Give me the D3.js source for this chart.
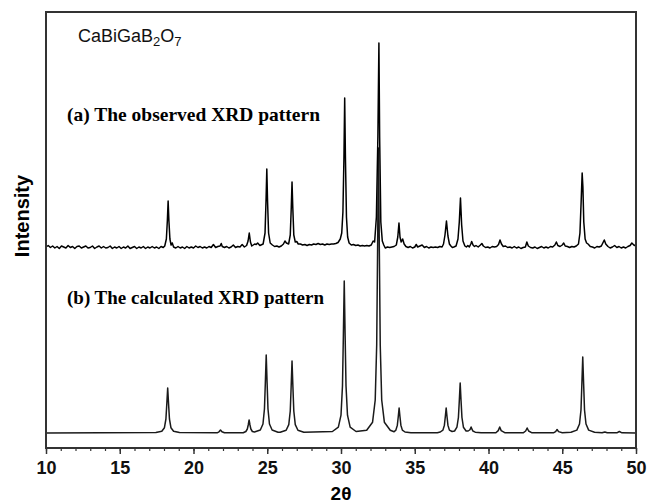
<!doctype html>
<html>
<head>
<meta charset="UTF-8">
<title>CaBiGaB2O7 XRD</title>
<script src="https://d3js.org/d3.v7.min.js"></script>
<style>
  body { margin: 0; background: #fff; }
  .tick text { font-family: "Liberation Sans", Arial, sans-serif; font-weight: bold; font-size: 18px; fill: #111; }
</style>
</head>
<body>
<div id="chart"></div>
<script>
// axis range and tick values
var xRange = [10, 50];
var majorTicks = [10, 15, 20, 25, 30, 35, 40, 45, 50];
var minorTicks = d3.range(10, 51, 1);

// observed pattern, [2theta, counts above its own baseline]
var observed = [
  [10.0,0],[10.15,1.5],[10.3,-0.5],[10.45,1],[10.6,-1],[10.75,0.5],[10.9,-1.5],[11.05,1],[11.2,0],[11.35,-1],
  [11.5,1.5],[11.65,-0.5],[11.8,0.5],[11.95,-1.5],[12.1,0.5],[12.25,1],[12.4,-1],[12.55,0],[12.7,1],[12.85,-1],
  [13.0,-0.5],[13.15,1],[13.3,-1.5],[13.45,0],[13.6,1],[13.75,-1],[13.9,0.5],[14.05,-1],[14.2,-0.5],[14.35,1],
  [14.5,-1.5],[14.65,0],[14.8,-1],[14.95,0.5],[15.1,-1.5],[15.25,0],[15.4,-1],[15.55,1],[15.7,-1.5],[15.85,-0.5],
  [16.0,0.5],[16.15,-1.5],[16.3,0],[16.45,-1],[16.6,0.5],[16.75,-1.5],[16.9,0],[17.05,-1],[17.2,0.5],[17.35,-1],
  [17.5,0],[17.65,-1.5],[17.8,0.5],[17.95,-0.5],
  [18.05,1],[18.16,8],[18.23,27],[18.28,46],[18.33,27],[18.4,8],[18.48,2],[18.56,4],[18.65,0],
  [18.8,-1],[18.95,0.5],[19.1,-1],[19.25,0],[19.4,-1.5],[19.55,0.5],[19.7,-1],[19.85,0],[20.0,-1],[20.15,1],
  [20.3,-0.5],[20.45,0.5],[20.6,-1],[20.75,0],[20.9,-1],[21.05,0.5],[21.2,-0.5],[21.35,2.5],[21.5,-0.5],[21.65,0.5],
  [21.8,1],[21.88,3.5],[21.95,0.5],[22.1,-0.5],[22.25,0.5],[22.4,-1],[22.55,0],[22.7,2],[22.85,-0.5],[23.0,0.5],
  [23.15,0],[23.3,2.5],[23.45,0],[23.6,1.5],[23.7,6],[23.78,14],[23.86,5],[23.95,1],[24.05,2],[24.15,3],
  [24.25,2.5],[24.35,4],[24.5,1.5],
  [24.72,3],[24.85,14],[24.92,48],[24.97,78],[25.02,46],[25.09,14],[25.2,4],[25.35,2],[25.5,0.5],[25.65,1],
  [25.8,0],[25.95,1],[26.1,3],[26.2,6],[26.3,4],[26.45,3],
  [26.56,12],[26.63,40],[26.68,65],[26.73,40],[26.8,12],[26.9,5],[27.0,5.5],[27.1,3],[27.25,3],[27.4,2],
  [27.55,2.5],[27.7,1.5],[27.85,2.5],[28.0,2],[28.15,3],[28.3,2.5],[28.45,3.5],[28.6,2.5],[28.75,3],[28.9,2],
  [29.05,3],[29.2,2.5],[29.35,3],[29.5,3],[29.65,3.5],[29.8,4.5],[29.95,8],
  [30.05,14],[30.13,35],[30.2,90],[30.25,149],[30.3,90],[30.37,30],[30.45,10],[30.55,4],[30.7,2],[30.85,2.5],
  [31.0,1.5],[31.15,2],[31.3,1],[31.45,1.5],[31.6,1],[31.75,1.5],[31.9,1],[32.05,2],[32.18,6],[32.28,5],
  [32.4,30],[32.5,110],[32.57,204],[32.62,110],[32.7,25],[32.8,6],[32.9,2],[33.0,-1],[33.15,0],[33.3,-0.5],
  [33.45,0],[33.6,0.5],[33.75,2],[33.85,10],[33.93,24],[34.0,10],[34.08,5],[34.18,8],[34.28,3],[34.4,0.5],
  [34.55,-0.5],[34.7,0.5],[34.85,-1],[35.0,0],[35.1,2.5],[35.2,0],[35.35,1],[35.5,2],[35.65,-0.5],[35.8,0.5],
  [35.95,-1],[36.1,0],[36.25,-0.5],[36.4,0],[36.55,-0.5],[36.7,0.5],[36.85,0],[36.95,3],
  [37.05,12],[37.15,26],[37.25,11],[37.35,3],[37.45,1],[37.55,-0.5],[37.65,0],[37.8,1],[37.93,8],[38.02,25],
  [38.1,49],[38.18,22],[38.27,6],[38.4,1],[38.5,0],[38.6,1.5],[38.7,0],[38.8,3],[38.86,5.5],[38.95,2],
  [39.05,0.5],[39.15,1.5],[39.3,0],[39.45,2],[39.55,3.5],[39.65,1],[39.8,-0.5],[39.95,0],[40.1,-1],[40.25,0.5],
  [40.4,0],[40.55,0.5],[40.68,2.5],[40.78,7],[40.88,3],[41.0,0.5],[41.15,1],[41.3,-0.5],[41.45,0],[41.6,-1],
  [41.75,0.5],[41.9,-1],[42.05,0],[42.2,-1.5],[42.35,-0.5],[42.5,0],[42.6,5],[42.7,1],[42.85,-0.5],[43.0,-1],
  [43.15,0],[43.3,-1.5],[43.45,-0.5],[43.6,0.5],[43.75,-1],[43.9,0],[44.05,-1],[44.2,0.5],[44.35,0],[44.5,2],
  [44.6,5],[44.7,1.5],[44.85,0.5],[45.0,2],[45.1,4],[45.2,1],[45.35,0.5],[45.5,-0.5],[45.65,0.5],[45.8,0],
  [45.95,1],[46.1,3],
  [46.2,14],[46.28,45],[46.35,74],[46.4,60],[46.46,25],[46.55,8],[46.65,4],[46.75,3],[46.9,0.5],[47.05,0],
  [47.2,-1],[47.35,0.5],[47.5,0],[47.65,1],[47.75,4],[47.85,7],[47.95,3],[48.1,0.5],[48.25,-1],[48.4,0],
  [48.55,1.5],[48.7,-0.5],[48.85,0.5],[49.0,-1],[49.15,0],[49.3,-1],[49.45,0.5],[49.6,1.5],[49.72,4],[49.85,2],
  [50.0,1]
];

// calculated pattern, [2theta, counts above its own baseline]
var calculated = [
  [10,0],
  [17.45,0.5],[17.85,1.7],[18.03,5.3],[18.13,14],[18.19,29],[18.25,45],[18.31,29],[18.37,14],[18.47,5.3],[18.65,1.7],[19.05,0.5],
  [21.6,0.2],[21.73,1.2],[21.83,3],[21.93,1.2],[22.1,0.2],
  [23.37,0.3],[23.55,1.5],[23.65,4],[23.71,8],[23.77,13],[23.83,8],[23.89,4],[23.99,1.5],
  [24.13,1],[24.53,3],[24.71,9],[24.81,24],[24.87,50],[24.93,78],[24.99,50],[25.05,24],[25.15,9],[25.33,3],[25.73,0.8],
  [25.88,0.7],[26.28,2.7],[26.46,8.4],[26.56,22],[26.62,46],[26.68,72],[26.74,46],[26.8,22],[26.9,8.4],[27.08,2.7],[27.48,0.7],
  [29.42,1.5],[29.82,5.8],[30.0,17.8],[30.1,47],[30.16,97],[30.22,152],[30.28,97],[30.34,47],[30.44,17.8],[30.62,5.8],[31.02,1.5],
  [31.74,2.8],[32.14,10.8],[32.32,33],[32.42,88],[32.48,182],[32.54,285],[32.6,182],[32.66,88],[32.76,33],[32.94,10.8],[33.34,2.8],
  [33.6,1.2],[33.72,2.9],[33.82,7.8],[33.88,16],[33.94,25],[34.0,16],[34.06,7.8],[34.16,2.9],[34.34,1],[34.74,0.3],
  [36.53,0.3],[36.73,1],[36.91,2.9],[37.01,7.8],[37.07,16],[37.13,25],[37.19,16],[37.25,7.8],[37.35,2.9],[37.53,1.5],
  [37.7,2],[37.86,5.8],[37.96,15.5],[38.02,32],[38.08,50],[38.14,32],[38.2,15.5],[38.3,5.8],[38.48,2],
  [38.62,2],[38.72,3],[38.76,3.8],[38.82,6],[38.88,3.8],[38.94,2],[39.1,0.8],[39.5,0.3],
  [40.5,0.2],[40.66,2.4],[40.76,6],[40.86,2.4],[41.1,0.3],
  [42.35,0.2],[42.52,2],[42.62,5],[42.72,2],[42.95,0.2],
  [44.4,0.2],[44.55,1.4],[44.65,3.5],[44.75,1.4],[45.0,0.3],
  [45.59,0.8],[45.99,2.9],[46.17,9],[46.27,23],[46.33,49],[46.39,76],[46.45,49],[46.51,23],[46.61,9],[46.79,2.9],[47.19,0.8],
  [47.7,0.2],[47.89,1],[48.05,0.2],
  [48.7,0.2],[48.87,1.5],[49.05,0.2],
  [50,0]
];

// vertical offsets of the two stacked patterns (in counts)
var observedOffset = 201;
var calculatedOffset = 15;

var width = 650, height = 504;
var margin = {top: 12, right: 14, bottom: 56, left: 46};

var svg = d3.select('#chart')
    .append('svg')
    .attr('width', width)
    .attr('height', height);

svg.append('rect').attr('width', width).attr('height', height).attr('fill', '#fff');

var x = d3.scaleLinear()
    .domain(xRange)
    .range([margin.left, width - margin.right]);

var y = d3.scaleLinear()
    .domain([0, height - margin.top - margin.bottom])
    .range([height - margin.bottom, margin.top]);

var line = d3.line()
    .x(function(d) { return x(d[0]); });

svg.append('path')
    .datum(calculated)
    .attr('fill', 'none')
    .attr('stroke', '#1a1a1a')
    .attr('stroke-width', 1.5)
    .attr('stroke-linejoin', 'round')
    .attr('d', line.y(function(d) { return y(d[1] + calculatedOffset); }));

svg.append('path')
    .datum(observed)
    .attr('fill', 'none')
    .attr('stroke', '#000')
    .attr('stroke-width', 1.5)
    .attr('stroke-linejoin', 'round')
    .attr('d', line.y(function(d) { return y(d[1] + observedOffset); }));

// frame
svg.append('rect')
    .attr('x', margin.left)
    .attr('y', margin.top)
    .attr('width', width - margin.left - margin.right)
    .attr('height', height - margin.top - margin.bottom)
    .attr('fill', 'none')
    .attr('stroke', '#333')
    .attr('stroke-width', 2);

// minor ticks
var minorAxis = svg.append('g')
    .attr('transform', 'translate(0,' + (height - margin.bottom) + ')')
    .call(d3.axisBottom(x).tickValues(minorTicks).tickSize(3).tickFormat(''));
minorAxis.select('.domain').remove();
minorAxis.selectAll('line').attr('stroke', '#333').attr('stroke-width', 1.2);

// major ticks + labels
var majorAxis = svg.append('g')
    .attr('transform', 'translate(0,' + (height - margin.bottom) + ')')
    .call(d3.axisBottom(x).tickValues(majorTicks).tickSize(6).tickPadding(7).tickFormat(d3.format('d')));
majorAxis.select('.domain').remove();
majorAxis.selectAll('line').attr('stroke', '#333').attr('stroke-width', 1.5);

// axis titles
svg.append('text')
    .attr('x', (x(xRange[0]) + x(xRange[1])) / 2)
    .attr('y', 500)
    .attr('text-anchor', 'middle')
    .style('font-family', '"Liberation Sans", Arial, sans-serif')
    .style('font-weight', 'bold')
    .style('font-size', '19px')
    .text('2θ');

svg.append('text')
    .attr('transform', 'translate(29,216) rotate(-90)')
    .attr('text-anchor', 'middle')
    .style('font-family', '"Liberation Sans", Arial, sans-serif')
    .style('font-weight', 'bold')
    .style('font-size', '20px')
    .text('Intensity');

// compound name with subscripts
var formula = svg.append('text')
    .attr('x', 78)
    .attr('y', 42)
    .style('font-family', '"Liberation Sans", Arial, sans-serif')
    .style('font-size', '18px')
    .attr('fill', '#111');
formula.append('tspan').text('CaBiGaB');
formula.append('tspan').attr('dy', 4).style('font-size', '13px').text('2');
formula.append('tspan').attr('dy', -4).text('O');
formula.append('tspan').attr('dy', 4).style('font-size', '13px').text('7');

// pattern labels
svg.append('text')
    .attr('x', 67)
    .attr('y', 121)
    .attr('textLength', 253)
    .attr('lengthAdjust', 'spacingAndGlyphs')
    .style('font-family', '"Liberation Serif", "Times New Roman", serif')
    .style('font-weight', 'bold')
    .style('font-size', '19px')
    .text('(a) The observed XRD pattern');

svg.append('text')
    .attr('x', 67)
    .attr('y', 304)
    .attr('textLength', 257)
    .attr('lengthAdjust', 'spacingAndGlyphs')
    .style('font-family', '"Liberation Serif", "Times New Roman", serif')
    .style('font-weight', 'bold')
    .style('font-size', '19px')
    .text('(b) The calculated XRD pattern');
</script>
</body>
</html>
